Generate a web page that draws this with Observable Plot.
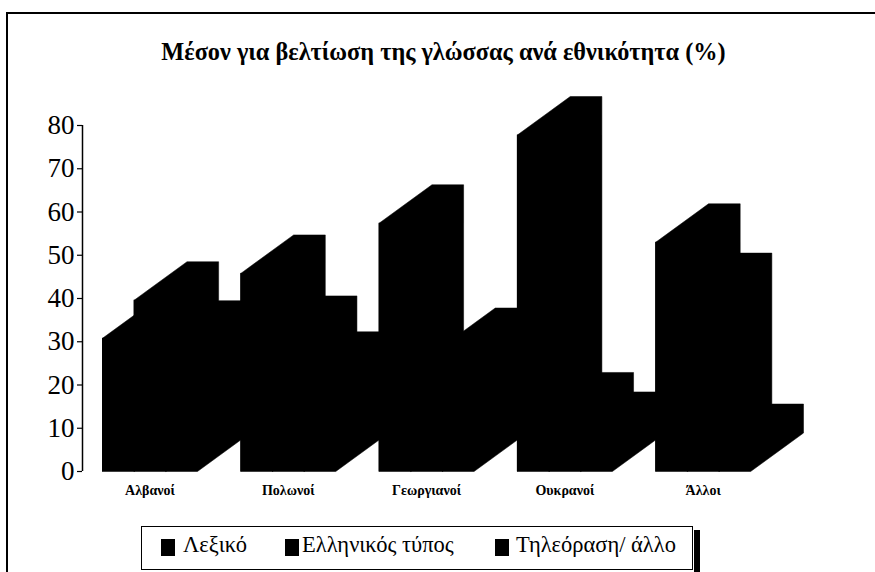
<!DOCTYPE html>
<html lang="el">
<head>
<meta charset="utf-8">
<script src="https://cdn.jsdelivr.net/npm/d3@7"></script>
<script src="https://cdn.jsdelivr.net/npm/@observablehq/plot@0.6"></script>
<style>
html,body{margin:0;padding:0;background:#fff;width:875px;height:572px;overflow:hidden;font-family:"Liberation Serif",serif;color:#000}
#frame{position:absolute;left:6px;top:12px;width:869px;height:560px;border-left:2px solid #000;border-top:2px solid #000;box-sizing:border-box}
#title{position:absolute;left:0;top:39px;width:887px;text-align:center;font-weight:bold;font-size:24.3px;line-height:26px;white-space:nowrap}
#chart{position:absolute;left:0;top:80px}
#legend{position:absolute;left:141px;top:526px;width:552px;height:44px;box-sizing:border-box;border:1px solid #000;font-size:22.5px;line-height:24px}
#shadow{position:absolute;left:694px;top:530px;width:6px;height:42px;background:#000}
#legend span{position:absolute;top:6px;white-space:nowrap}
#legend i{position:absolute;top:12px;width:14px;height:17px;background:#000}
</style>
</head>
<body>
<div id="frame"></div>
<div id="title">Μέσον για βελτίωση της γλώσσας ανά εθνικότητα (%)</div>
<div id="chart"></div>
<div id="shadow"></div>
<div id="legend"></div>
<script>
const categories = ["Αλβανοί", "Πολωνοί", "Γεωργιανοί", "Ουκρανοί", "Άλλοι"];
const seriesNames = ["Λεξικό", "Ελληνικός τύπος", "Τηλεόραση/ άλλο"];
const lexiko = [30.8, 45.8, 57.4, 77.8, 53];
const typos = [39.6, 31.7, 22, 14, 41.6];
const tileorasi = [30.6, 23.4, 28.9, 9.5, 6.7];
const yTicks = [0, 10, 20, 30, 40, 50, 60, 70, 80];

// x is measured in bar widths; each category holds three bars and a gap
const groupStep = 4.37;
const depthX = 1.67;   // extrusion of the 3-D bars, in bar widths
const depthY = 8.9;    // extrusion of the 3-D bars, in percentage points

const series = [lexiko, typos, tileorasi];
const bars = series.flatMap((vals, s) => vals.map((v, c) => ({
  id: `${c}-${s}`, x0: c * groupStep + s, x1: c * groupStep + s + 1, v
})));
const hull = bars.flatMap(b => [
  {id: b.id, x: b.x0, y: 0},
  {id: b.id, x: b.x0, y: b.v},
  {id: b.id, x: b.x0 + depthX, y: b.v + depthY},
  {id: b.id, x: b.x1 + depthX, y: b.v + depthY},
  {id: b.id, x: b.x1 + depthX, y: depthY},
  {id: b.id, x: b.x1, y: 0},
  {id: b.id, x: b.x0, y: 0}
]);
const centers = categories.map((name, c) => ({name, x: c * groupStep + 1.5}));

const chart = Plot.plot({
  width: 875,
  height: 420,
  marginLeft: 102,
  marginRight: 72,
  marginTop: 45,
  marginBottom: 29,
  x: {type: "linear", domain: [0, 4 * groupStep + 3 + depthX], axis: null},
  y: {domain: [0, 80], axis: null},
  style: {fontFamily: "Liberation Serif, serif", background: "transparent", overflow: "visible"},
  marks: [
    Plot.line(hull, {x: "x", y: "y", z: "id", fill: "#000", stroke: "#000", strokeWidth: 0.5, curve: "linear"}),
    Plot.rect(bars, {x1: "x0", x2: "x1", y1: 0, y2: "v", fill: "#000"}),
    Plot.ruleX([0], {y1: 0, y2: 80, stroke: "#000", strokeWidth: 1.5, dx: -20}),
    Plot.axisY({ticks: yTicks, anchor: "left", tickSize: 5, tickPadding: 3, dx: -20, fontSize: 27, fill: "#000", stroke: "#000", strokeWidth: 1.2, fontFamily: "Liberation Serif, serif", label: null, letterSpacing: "-2px"}),
    Plot.text(centers, {x: "x", y: 0, text: "name", dy: 19, fontSize: 14, fontWeight: "bold", fill: "#000", fontFamily: "Liberation Serif, serif"})
  ]
});
document.getElementById("chart").append(chart);

const lg = document.getElementById("legend");
const swatchX = [19, 143, 353];
const labelX = [41, 160, 374];
seriesNames.forEach((n, i) => {
  const sw = document.createElement("i");
  sw.style.left = swatchX[i] + "px";
  const t = document.createElement("span");
  t.style.left = labelX[i] + "px";
  t.textContent = n;
  lg.append(sw, t);
});
</script>
</body>
</html>
